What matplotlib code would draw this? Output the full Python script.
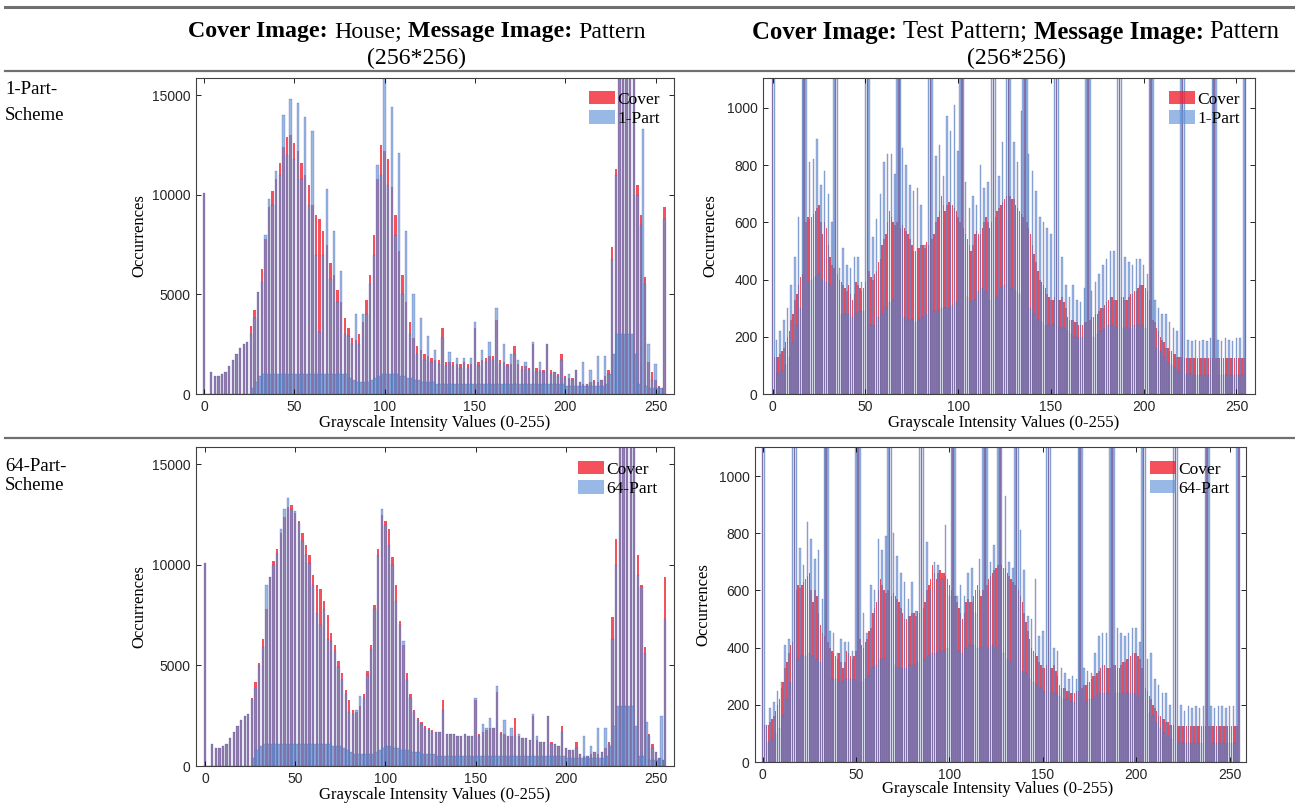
import numpy as np
import matplotlib

matplotlib.use("Agg")
import matplotlib.pyplot as plt
from matplotlib.axes import Axes
from matplotlib.patches import Patch

# grey levels 0..255
grey_levels = np.arange(256)

# House cover histogram, counts / 100 (odd levels are empty in the cover)
house_cover = [
    101, 0, 0, 0, 11, 0, 9, 0, 9, 0, 10, 0, 11, 0, 14, 0,
    17, 0, 20, 0, 23, 0, 25, 0, 26, 0, 34, 0, 42, 0, 51, 0,
    63, 0, 78, 0, 94, 0, 102, 0, 108, 0, 116, 0, 124, 0, 129, 0,
    130, 0, 126, 0, 122, 0, 116, 0, 110, 0, 105, 0, 95, 0, 90, 0,
    88, 0, 82, 0, 75, 0, 66, 0, 60, 0, 52, 0, 46, 0, 38, 0,
    33, 0, 28, 0, 27, 0, 30, 0, 36, 0, 47, 0, 60, 0, 80, 0,
    108, 0, 125, 0, 122, 0, 118, 0, 104, 0, 90, 0, 72, 0, 60, 0,
    46, 0, 36, 0, 28, 0, 24, 0, 22, 0, 20, 0, 19, 0, 18, 0,
    17, 0, 17, 0, 33, 0, 16, 0, 16, 0, 16, 0, 15, 0, 15, 0,
    16, 0, 15, 0, 15, 0, 33, 0, 16, 0, 17, 0, 18, 0, 19, 0,
    19, 0, 37, 0, 17, 0, 16, 0, 15, 0, 15, 0, 24, 0, 15, 0,
    14, 0, 14, 0, 13, 0, 25, 0, 13, 0, 12, 0, 12, 0, 25, 0,
    12, 0, 11, 0, 10, 0, 20, 0, 9, 0, 8, 0, 8, 0, 12, 0,
    6, 0, 5, 0, 5, 0, 6, 0, 7, 0, 6, 0, 7, 0, 9, 0,
    12, 0, 74, 0, 113, 0, 170, 0, 190, 0, 200, 0, 180, 0, 165, 0,
    105, 0, 90, 0, 59, 0, 16, 0, 11, 0, 7, 0, 4, 0, 3, 94,
]
house_1part = [
    101, 0, 0, 0, 11, 0, 9, 0, 9, 0, 10, 0, 11, 0, 14, 0,
    17, 0, 20, 0, 23, 0, 25, 0, 26, 0, 30, 3, 38, 6, 51, 9,
    56, 10, 80, 10, 98, 10, 95, 10, 112, 10, 110, 10, 140, 10, 120, 10,
    148, 10, 118, 10, 146, 10, 108, 10, 139, 10, 95, 10, 132, 10, 70, 10,
    31, 10, 70, 10, 103, 10, 58, 10, 82, 10, 46, 10, 62, 10, 30, 10,
    29, 8, 25, 7, 40, 6, 25, 6, 40, 6, 40, 6, 55, 7, 70, 8,
    115, 9, 110, 10, 159, 10, 105, 10, 144, 10, 80, 10, 121, 9, 50, 9,
    82, 8, 30, 8, 50, 7, 20, 7, 38, 6, 17, 6, 29, 6, 16, 6,
    22, 5, 15, 5, 28, 5, 14, 5, 21, 5, 14, 5, 18, 5, 13, 5,
    18, 5, 13, 5, 18, 5, 36, 5, 14, 5, 22, 5, 16, 5, 26, 5,
    17, 5, 43, 5, 15, 5, 25, 5, 14, 5, 20, 5, 20, 5, 17, 5,
    12, 5, 16, 5, 12, 5, 26, 5, 11, 5, 16, 5, 11, 5, 25, 5,
    10, 5, 11, 5, 9, 5, 17, 5, 8, 4, 10, 4, 7, 4, 12, 4,
    6, 4, 16, 4, 5, 4, 12, 4, 6, 4, 19, 4, 7, 4, 19, 5,
    10, 10, 68, 20, 110, 30, 170, 30, 190, 30, 200, 30, 180, 30, 165, 20,
    100, 5, 85, 133, 55, 4, 25, 3, 7, 3, 15, 3, 3, 3, 3, 88,
]
house_64part = [
    101, 0, 0, 0, 11, 0, 9, 0, 9, 0, 10, 0, 11, 0, 14, 0,
    17, 0, 20, 0, 23, 0, 25, 0, 26, 0, 33, 4, 39, 8, 50, 10,
    59, 11, 90, 11, 94, 11, 100, 11, 106, 11, 118, 11, 128, 11, 133, 11,
    128, 11, 127, 11, 121, 11, 112, 11, 105, 11, 101, 11, 90, 11, 76, 11,
    70, 11, 78, 11, 63, 11, 62, 10, 57, 10, 49, 10, 43, 9, 36, 8,
    27, 7, 26, 6, 28, 6, 35, 6, 34, 6, 45, 6, 58, 6, 78, 7,
    105, 8, 128, 9, 120, 10, 110, 10, 100, 9, 82, 9, 70, 8, 62, 8,
    43, 8, 34, 7, 27, 7, 23, 7, 21, 6, 19, 6, 18, 6, 17, 6,
    17, 5, 17, 5, 28, 5, 16, 5, 16, 5, 16, 5, 15, 5, 15, 5,
    16, 5, 15, 5, 15, 5, 34, 5, 15, 5, 21, 5, 19, 5, 24, 5,
    19, 5, 40, 5, 16, 5, 23, 5, 15, 5, 19, 5, 15, 5, 16, 5,
    14, 5, 14, 5, 13, 5, 26, 5, 15, 5, 12, 5, 12, 5, 25, 5,
    11, 5, 11, 5, 10, 5, 17, 5, 9, 4, 8, 4, 8, 4, 9, 4,
    6, 4, 15, 4, 5, 4, 10, 4, 7, 4, 19, 4, 7, 4, 19, 5,
    11, 10, 63, 20, 100, 30, 170, 30, 190, 30, 200, 30, 180, 30, 165, 20,
    95, 5, 89, 5, 56, 22, 15, 3, 9, 3, 7, 3, 4, 25, 3, 73,
]

# Test Pattern cover histogram, raw counts (the spikes run far off the axis)
test_cover = [
    3000, 130, 130, 130, 140, 150, 160, 180, 200, 220, 260, 280, 330, 350, 380, 410,
    420, 3000, 600, 620, 610, 620, 630, 640, 650, 660, 600, 560, 600, 580, 520, 480,
    450, 440, 3000, 420, 400, 390, 380, 370, 360, 380, 350, 330, 350, 390, 380, 370,
    360, 370, 390, 3000, 430, 410, 400, 420, 430, 460, 470, 520, 540, 560, 600, 640,
    620, 600, 590, 600, 3000, 580, 590, 580, 570, 560, 540, 520, 500, 500, 510, 510,
    520, 520, 510, 530, 520, 3000, 540, 560, 600, 620, 640, 690, 660, 640, 660, 670,
    660, 660, 650, 640, 620, 600, 3000, 580, 560, 540, 520, 500, 520, 560, 570, 560,
    560, 580, 600, 620, 600, 580, 600, 3000, 620, 640, 650, 660, 670, 680, 690, 3000,
    690, 680, 680, 660, 650, 640, 630, 620, 3000, 600, 580, 560, 520, 490, 460, 430,
    400, 390, 380, 370, 350, 340, 330, 330, 340, 3000, 330, 330, 340, 320, 300, 270,
    260, 260, 260, 250, 250, 240, 240, 240, 250, 250, 3000, 260, 270, 270, 280, 280,
    290, 300, 300, 310, 320, 330, 340, 340, 330, 330, 330, 3000, 340, 340, 330, 330,
    340, 350, 350, 360, 360, 370, 380, 380, 380, 370, 360, 330, 3000, 260, 250, 230,
    220, 200, 190, 180, 160, 160, 150, 150, 140, 140, 130, 130, 130, 3000, 125, 125,
    125, 125, 125, 125, 125, 125, 125, 125, 125, 125, 125, 125, 125, 125, 3000, 125,
    125, 125, 125, 125, 125, 125, 125, 125, 125, 125, 125, 125, 125, 125, 125, 3000,
]
test_1part = [
    3000, 3000, 190, 70, 220, 80, 260, 100, 300, 130, 380, 180, 480, 240, 620, 300,
    3000, 3000, 3000, 390, 810, 400, 820, 410, 890, 420, 730, 400, 780, 390, 700, 380,
    600, 3000, 3000, 3000, 440, 280, 510, 280, 450, 280, 440, 270, 480, 280, 480, 290,
    390, 290, 3000, 3000, 3000, 240, 550, 240, 610, 270, 700, 280, 810, 300, 840, 320,
    840, 330, 770, 3000, 3000, 3000, 860, 270, 800, 260, 730, 260, 710, 250, 720, 260,
    660, 270, 520, 280, 3000, 3000, 3000, 290, 830, 290, 870, 300, 760, 300, 970, 300,
    920, 310, 1010, 320, 850, 3000, 3000, 3000, 740, 340, 650, 320, 690, 330, 660, 360,
    800, 370, 720, 360, 740, 330, 3000, 3000, 3000, 340, 760, 370, 880, 380, 3000, 3000,
    3000, 370, 880, 360, 810, 350, 990, 3000, 3000, 3000, 840, 300, 780, 280, 710, 260,
    620, 250, 600, 240, 580, 240, 560, 240, 3000, 3000, 3000, 230, 480, 230, 380, 220,
    340, 210, 380, 200, 330, 200, 320, 200, 370, 3000, 3000, 3000, 360, 200, 390, 210,
    420, 220, 450, 230, 470, 240, 500, 240, 500, 230, 3000, 3000, 3000, 230, 480, 230,
    460, 230, 450, 240, 470, 240, 470, 240, 450, 230, 420, 3000, 3000, 3000, 330, 160,
    300, 150, 280, 130, 280, 110, 250, 100, 230, 90, 220, 80, 3000, 3000, 3000, 70,
    190, 70, 185, 65, 190, 65, 185, 65, 190, 65, 185, 65, 195, 3000, 3000, 3000,
    190, 65, 185, 65, 195, 65, 190, 65, 185, 65, 195, 65, 195, 65, 3000, 3000,
]
test_64part = [
    3000, 3000, 130, 70, 190, 80, 210, 100, 250, 120, 280, 160, 410, 220, 430, 280,
    3000, 3000, 3000, 360, 750, 370, 690, 370, 840, 380, 780, 370, 710, 360, 740, 350,
    570, 3000, 3000, 3000, 460, 290, 450, 290, 380, 280, 430, 280, 420, 290, 420, 290,
    390, 290, 3000, 3000, 3000, 280, 520, 290, 450, 300, 620, 330, 600, 340, 780, 360,
    740, 360, 790, 3000, 3000, 3000, 800, 340, 720, 330, 660, 330, 630, 330, 570, 340,
    630, 340, 530, 350, 3000, 3000, 3000, 360, 770, 370, 600, 380, 700, 380, 690, 390,
    640, 390, 830, 400, 580, 3000, 3000, 3000, 580, 390, 620, 380, 580, 400, 660, 410,
    680, 410, 520, 400, 710, 400, 3000, 3000, 3000, 400, 700, 410, 760, 400, 3000, 3000,
    3000, 380, 930, 360, 700, 350, 680, 3000, 3000, 3000, 810, 320, 670, 310, 510, 290,
    500, 280, 640, 270, 440, 260, 460, 250, 3000, 3000, 3000, 240, 400, 240, 390, 230,
    330, 220, 310, 220, 290, 210, 300, 210, 290, 3000, 3000, 3000, 330, 210, 320, 220,
    310, 220, 380, 230, 440, 240, 450, 240, 450, 240, 3000, 3000, 3000, 240, 470, 240,
    450, 240, 440, 240, 450, 240, 470, 240, 470, 230, 420, 3000, 3000, 3000, 360, 170,
    380, 160, 290, 140, 270, 120, 240, 100, 240, 90, 200, 80, 3000, 3000, 3000, 70,
    200, 65, 180, 65, 195, 65, 190, 65, 195, 65, 190, 65, 195, 3000, 3000, 3000,
    195, 65, 190, 65, 195, 65, 195, 65, 190, 65, 195, 65, 195, 65, 3000, 3000,
]

W, H = 1295, 805
SERIF = ["Liberation Serif", "DejaVu Serif"]
SANS = ["Liberation Sans", "DejaVu Sans"]
RED = (0.95, 0.15, 0.20)
BLUE = (0.38, 0.58, 0.85)
EDGE = (0.22, 0.27, 0.56)
RED_ALPHA = 0.8
BLUE_ALPHA = 0.65


def axRect(left: float, top: float, right: float, bottom: float) -> list[float]:
    return [left / W, 1 - bottom / H, (right - left) / W, (bottom - top) / H]


def drawHistPanel(
    ax: Axes,
    cover,
    stego,
    stegoName: str,
    barWidth: float,
    xlim: tuple,
    ylim: tuple,
    yticks,
    ylabelX: float,
    xlabelPos: tuple,
    legendAnchor: tuple,
) -> Axes:
    ax.bar(grey_levels, cover, width=barWidth, color=RED, alpha=RED_ALPHA, linewidth=0)
    ax.bar(
        grey_levels,
        stego,
        width=barWidth,
        color=BLUE,
        alpha=BLUE_ALPHA,
        edgecolor=EDGE,
        linewidth=0.25,
    )
    ax.set_xlim(*xlim)
    ax.set_ylim(*ylim)
    ax.set_xticks([0, 50, 100, 150, 200, 250])
    ax.set_yticks(yticks)
    ax.tick_params(
        direction="in",
        top=True,
        right=True,
        length=3.5,
        width=0.6,
        labelsize=10,
        labelcolor="#262626",
        pad=4,
    )
    for lab in ax.get_xticklabels() + ax.get_yticklabels():
        lab.set_family(SANS)
    for sp in ax.spines.values():
        sp.set_color("#404040")
        sp.set_linewidth(0.8)
    ax.set_ylabel("Occurrences", family=SERIF, fontsize=12)
    ax.yaxis.set_label_coords(ylabelX, 0.5)
    ax.set_xlabel("Grayscale Intensity Values (0-255)", family=SERIF, fontsize=12)
    ax.xaxis.set_label_coords(*xlabelPos)
    handles = [
        Patch(facecolor=RED, alpha=RED_ALPHA, linewidth=0),
        Patch(facecolor=BLUE, alpha=BLUE_ALPHA, linewidth=0),
    ]
    ax.legend(
        handles,
        ["Cover", stegoName],
        loc="upper right",
        bbox_to_anchor=legendAnchor,
        frameon=False,
        prop={"family": SERIF, "size": 12.5},
        handlelength=1.5,
        handleheight=0.8,
        handletextpad=0.15,
        labelspacing=0.15,
        borderaxespad=0,
        borderpad=0,
    )
    return ax


def richHeader(fig, xc: float, y: float, parts: list, size: float) -> None:
    r = fig.canvas.get_renderer()
    probe = fig.text(0, 0, "H H", family=SERIF, fontsize=size)
    probe2 = fig.text(0, 0, "HH", family=SERIF, fontsize=size)
    space = probe.get_window_extent(r).width - probe2.get_window_extent(r).width
    probe.remove()
    probe2.remove()
    texts, widths = [], []
    for s, w in parts:
        t = fig.text(0, 1 - y / H, s, family=SERIF, fontweight=w, fontsize=size, va="center")
        texts.append(t)
        widths.append(t.get_window_extent(r).width)
    total = sum(widths) + space * (len(parts) - 1)
    x = xc - total / 2
    for t, wd in zip(texts, widths):
        t.set_x(x / W)
        x += wd + space


if __name__ == "__main__":
    for arr in (house_cover, house_1part, house_64part, test_cover, test_1part, test_64part):
        assert len(arr) == 256, len(arr)

    fig = plt.figure(figsize=(W / 100, H / 100), dpi=100)

    # table rules
    for yy, lw in ((7, 2.2), (71, 1.6), (438, 1.6)):
        fig.add_artist(
            plt.Line2D([5 / W, 1], [1 - yy / H, 1 - yy / H], color="#707070", linewidth=lw)
        )

    richHeader(
        fig, 417, 32,
        [("Cover Image:", "bold"), ("House;", "normal"), ("Message Image:", "bold"), ("Pattern", "normal")],
        17.2,
    )
    richHeader(
        fig, 1016, 32,
        [("Cover Image:", "bold"), ("Test Pattern;", "normal"), ("Message Image:", "bold"), ("Pattern", "normal")],
        17.8,
    )
    fig.text(417 / W, 1 - 58 / H, "(256*256)", family=SERIF, fontsize=17.2, ha="center", va="center")
    fig.text(1016 / W, 1 - 58 / H, "(256*256)", family=SERIF, fontsize=17.2, ha="center", va="center")

    fig.text(5 / W, 1 - 90 / H, "1-Part-", family=SERIF, fontsize=13.5, va="center")
    fig.text(5 / W, 1 - 116 / H, "Scheme", family=SERIF, fontsize=13.5, va="center")
    fig.text(5 / W, 1 - 466 / H, "64-Part-", family=SERIF, fontsize=13.5, va="center")
    fig.text(5 / W, 1 - 485 / H, "Scheme", family=SERIF, fontsize=13.5, va="center")

    house_ticks = [0, 5000, 10000, 15000]
    test_ticks = [0, 200, 400, 600, 800, 1000]

    ax_tl = fig.add_axes(axRect(196, 78, 674, 394))
    drawHistPanel(
        ax_tl, np.array(house_cover) * 100, np.array(house_1part) * 100, "1-Part", 1.3,
        (-4.4, 260.2), (0, 15870), house_ticks, -0.1025, (0.499, -0.066), (0.971, 0.959),
    )
    ax_tr = fig.add_axes(axRect(763, 78, 1255, 394))
    drawHistPanel(
        ax_tr, test_cover, test_1part, "1-Part", 0.8,
        (-5.2, 260.0), (0, 1104), test_ticks, -0.0915, (0.49, -0.066), (0.9695, 0.959),
    )
    ax_bl = fig.add_axes(axRect(196, 447, 674, 766))
    drawHistPanel(
        ax_bl, np.array(house_cover) * 100, np.array(house_64part) * 100, "64-Part", 1.3,
        (-5.0, 260.0), (0, 15860), house_ticks, -0.1025, (0.499, -0.066), (0.9665, 0.956),
    )
    ax_br = fig.add_axes(axRect(755, 447, 1246, 762))
    drawHistPanel(
        ax_br, test_cover, test_64part, "64-Part", 0.8,
        (-4.1, 258.8), (0, 1102), test_ticks, -0.0896, (0.495, -0.06), (0.967, 0.956),
    )

    fig.savefig("out.png", dpi=100)
